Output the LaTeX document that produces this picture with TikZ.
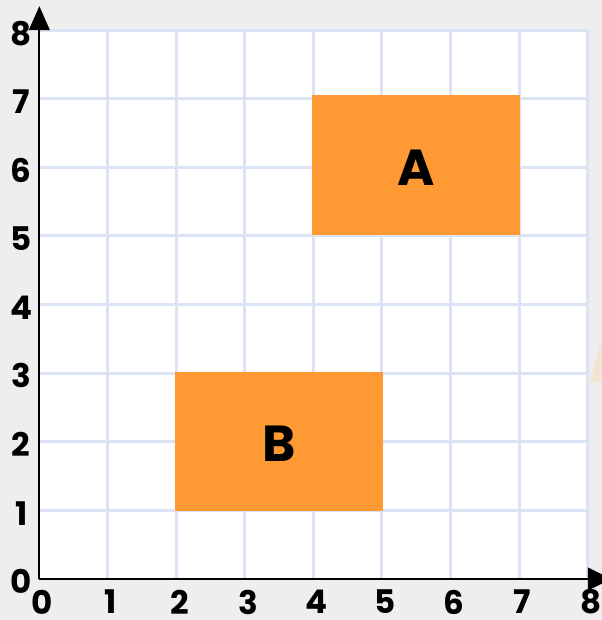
\documentclass[tikz,border=0pt]{standalone}
\usepackage{fontspec}
\setmainfont{Poppins}
\begin{document}
\begin{tikzpicture}[x=1cm,y=1cm,
  gridline/.style={draw=gridblue, line width=1.25pt},
  axisline/.style={draw=black, line width=1.05pt},
  region/.style={fill=boxorange, draw=none, inner sep=0pt},
  ticklabel/.style={font=\fontsize{13.5}{13.5}\selectfont\bfseries, inner sep=0pt},
  boxlabel/.style={font=\fontsize{21}{21}\selectfont\bfseries, inner sep=0pt}]
\definecolor{gridblue}{HTML}{DCE3F4}
\definecolor{boxorange}{HTML}{FF9933}
\definecolor{bggray}{HTML}{EEEEEE}
\definecolor{faint}{HTML}{F2E4D2}
\useasboundingbox (-0.5685,-0.598) rectangle (8.207,8.440);
\clip (-0.5685,-0.598) rectangle (8.207,8.440);
\fill[bggray] (-0.5685,-0.598) rectangle (8.207,8.440);
\fill[faint] (8.03,2.87) -- (8.207,3.50) -- (8.207,2.87) -- cycle;
\fill[white] (0,0) rectangle (8,8);
% grid
\foreach \i in {1,...,8} {
  \draw[gridline] (\i,0) -- (\i,8);
  \draw[gridline] (0,\i) -- (8,\i);
}
% regions
\node[region, minimum width=3.03cm, minimum height=2.04cm] (A) at (5.5,6.03) {};
\node[region, minimum width=3.03cm, minimum height=2.03cm] (B) at (3.5,2.0) {};
\node[boxlabel] (la) at (5.5,6.0) {A};
\node[boxlabel] (lb) at (3.5,1.97) {B};
% axes
\coordinate (O) at (0,0);
\coordinate (ytop) at (0,8);
\coordinate (xend) at (8,0);
\draw[axisline] (O) -- (ytop);
\draw[axisline] (O) -- (xend);
\fill[black] (-0.15,8) -- (0.16,8) -- (0.005,8.35) -- cycle;
\fill[black] (8,-0.17) -- (8,0.17) -- (8.34,0) -- cycle;
% labels
\foreach \i in {0,...,8} {
  \node[ticklabel] (xl\i) at (\i+0.05,-0.335) {\i};
}
\foreach \i in {0,...,7} {
  \node[ticklabel] (yl\i) at (-0.26,\i-0.04) {\i};
}
\node[ticklabel] (yl8) at (-0.26,7.95) {8};
\end{tikzpicture}
\end{document}
